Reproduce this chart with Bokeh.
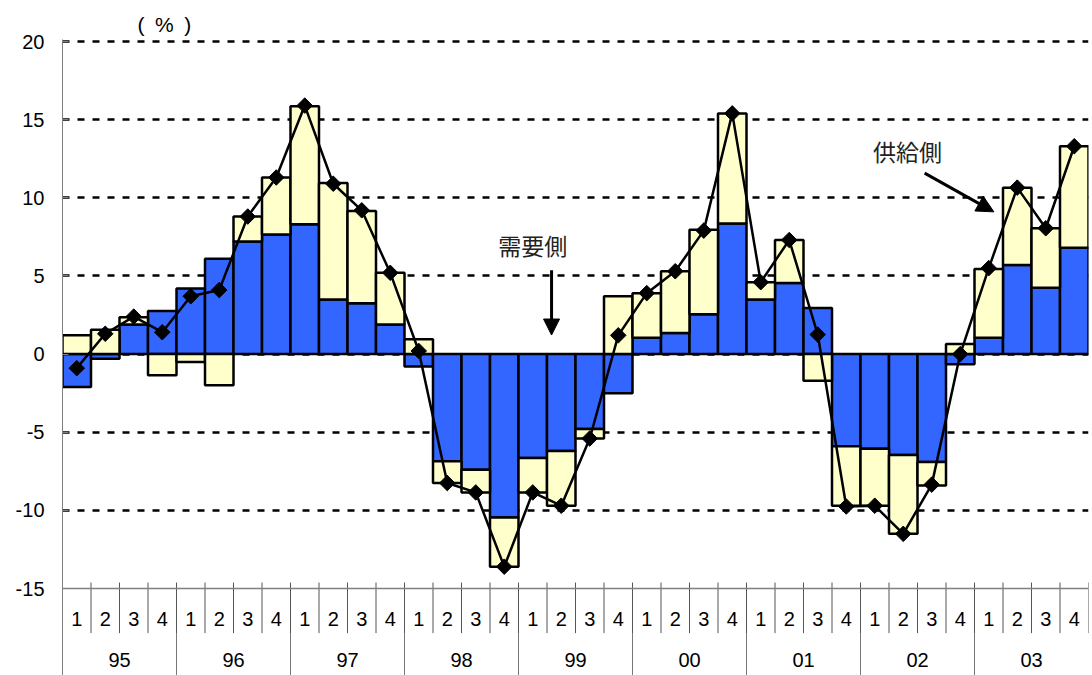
import numpy as np
from bokeh.plotting import figure
from bokeh.models import Range1d, FixedTicker, Span, Label, Arrow, NormalHead
from bokeh.embed import file_html
from bokeh.resources import INLINE
from bokeh.core.properties import value

# ---------------- data ----------------
years = ["95", "96", "97", "98", "99", "00", "01", "02", "03"]
quarters = ["1", "2", "3", "4"]
demand = [-2.1, -0.3, 1.9, 2.75, 4.2, 6.1, 7.2, 7.65, 8.3, 3.5, 3.25, 1.9,
          -0.8, -6.85, -7.4, -10.45, -6.65, -6.2, -4.8, -2.5, 1.05, 1.35, 2.55, 8.35,
          3.5, 4.55, 2.95, -5.9, -6.05, -6.45, -6.9, -0.65, 1.05, 5.7, 4.25, 6.8]
supply = [1.2, 1.55, 0.45, -1.35, -0.5, -2.0, 1.6, 3.65, 7.55, 7.45, 5.9, 3.3,
          0.95, -1.4, -1.45, -3.15, -2.2, -3.5, -0.6, 3.7, 2.85, 3.95, 5.4, 7.05,
          1.1, 2.75, -1.7, -3.8, -3.65, -5.05, -1.5, 0.65, 4.4, 4.95, 3.8, 6.5]
total = [-0.9, 1.3, 2.4, 1.4, 3.7, 4.1, 8.8, 11.3, 15.9, 10.9, 9.2, 5.2,
         0.2, -8.25, -8.85, -13.6, -8.85, -9.7, -5.4, 1.2, 3.9, 5.3, 7.9, 15.4,
         4.6, 7.3, 1.25, -9.75, -9.7, -11.5, -8.35, 0.0, 5.5, 10.65, 8.05, 13.3]
y_ticks = [-15, -10, -5, 0, 5, 10, 15, 20]
grid_ticks = [-10, -5, 0, 5, 10, 15, 20]
unit_label = "(\u2002%\u2002)"
demand_label = "需要側"
supply_label = "供給側"

# ---------------- derived ----------------
n = len(demand)
x = np.arange(n)
d = np.array(demand)
s = np.array(supply)
s_base = np.where(s >= 0, np.maximum(d, 0), np.minimum(d, 0))
s_top = s_base + s

PX = 15.63           # pixels per unit on y
W, H = 1092, 675
LEFT, TOP, RIGHT = 62, 39, 4
frame_h = H - TOP
y_top = 20 + 2 / PX
y_min = y_top - frame_h / PX
y_axis_base = y_ticks[0]

def py(pix_below_zero):
    return -pix_below_zero / PX

p = figure(width=W, height=H, output_backend="svg", toolbar_location=None,
           x_range=Range1d(-0.5, n - 0.5), y_range=Range1d(y_min, y_top),
           x_axis_location=None,
           min_border_left=LEFT, min_border_right=RIGHT,
           min_border_top=TOP, min_border_bottom=0)
p.outline_line_color = None
p.background_fill_color = "white"
for g in p.xgrid:
    g.visible = False

p.title.text = unit_label
p.title.align = "left"
p.title.offset = 75
p.title.standoff = 7
p.title.text_font = "Liberation Sans"
p.title.text_font_size = "21px"
p.title.text_font_style = "normal"
p.title.text_color = "black"

p.ygrid.ticker = FixedTicker(ticks=grid_ticks)
p.ygrid.grid_line_color = "black"
p.ygrid.grid_line_dash = "7 8"
p.ygrid.grid_line_width = 2.5

ax = p.yaxis[0]
ax.ticker = FixedTicker(ticks=y_ticks)
ax.major_label_overrides = {t: str(t) for t in y_ticks}
ax.major_label_text_font = "Liberation Sans"
ax.major_label_text_font_size = "20px"
ax.major_label_text_color = "black"
ax.axis_line_color = "#808080"
ax.axis_line_width = 1
ax.major_tick_line_color = "#808080"
ax.major_tick_in = 6
ax.major_tick_out = 0
ax.minor_tick_line_color = None
ax.major_label_standoff = 18

# bars
p.vbar(x=x, width=1.0, bottom=0, top=d, fill_color="#3366FF",
       line_color="black", line_width=2.5)
p.vbar(x=x, width=1.0, bottom=s_base, top=s_top, fill_color="#FFFFCC",
       line_color="black", line_width=2.5)

# total line
p.line(x, total, line_color="black", line_width=2.5)
p.scatter(x, total, marker="square", angle=np.pi / 4, size=11,
          fill_color="black", line_color="black")

# category axis drawn in the lower band
p.add_layout(Span(location=y_axis_base, dimension="width",
                  line_color="#808080", line_width=1.5))
tick_top = y_axis_base + 6 / PX
q_bottom = py(633 - 354)
bounds = np.arange(1, n + 1) - 0.5
p.segment(x0=bounds, y0=tick_top, x1=bounds, y1=q_bottom,
          line_color="#555555", line_width=1)
ybounds = np.arange(4, n, 4) - 0.5
p.segment(x0=ybounds, y0=q_bottom, x1=ybounds, y1=y_min,
          line_color="#777777", line_width=1)

p.text(x=x, y=py(619 - 354), text=[quarters[i % 4] for i in range(n)],
       text_align="center", text_baseline="middle",
       text_font=value("Liberation Sans"), text_font_size="20px",
       text_color="black")
p.text(x=np.arange(len(years)) * 4 + 1.5, y=py(660 - 354), text=years,
       text_align="center", text_baseline="middle",
       text_font=value("Liberation Sans"), text_font_size="20px",
       text_color="black")

# annotations
p.add_layout(Label(x=16.0, y=7.0, text=demand_label, text_align="center",
                   text_baseline="middle", text_font="Noto Sans CJK JP",
                   text_font_size="23px", text_color="#222222"))
p.add_layout(Arrow(x_start=16.66, y_start=5.37, x_end=16.66, y_end=1.22,
                   line_color="black", line_width=3,
                   end=NormalHead(size=16, fill_color="black", line_color="black")))
p.add_layout(Label(x=29.15, y=13.0, text=supply_label, text_align="center",
                   text_baseline="middle", text_font="Noto Sans CJK JP",
                   text_font_size="23px", text_color="#222222"))
p.add_layout(Arrow(x_start=29.75, y_start=11.58, x_end=32.18, y_end=9.10,
                   line_color="black", line_width=3,
                   end=NormalHead(size=17, fill_color="black", line_color="black")))

open("out.html", "w").write(file_html(p, INLINE))
